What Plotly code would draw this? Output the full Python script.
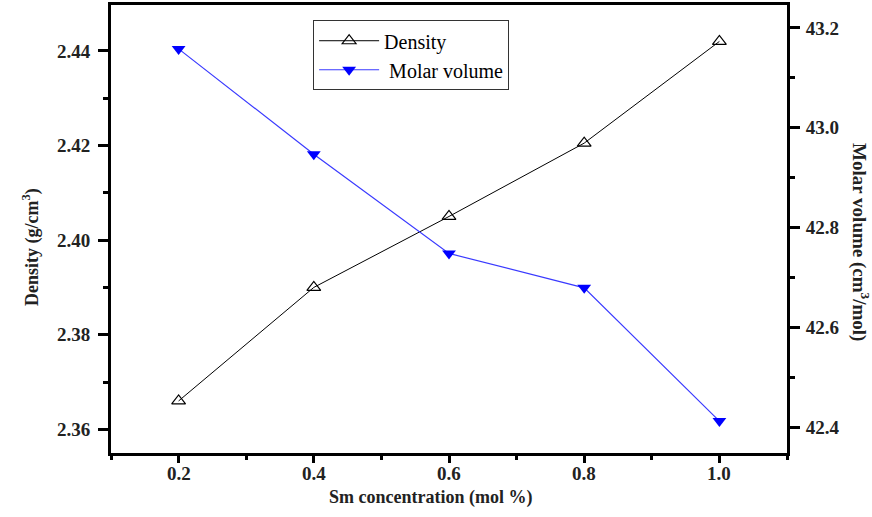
import plotly.graph_objects as go

sm_conc = [0.2, 0.4, 0.6, 0.8, 1.0]
density = [2.366, 2.390, 2.405, 2.4205, 2.442]
molar_volume = [43.158, 42.947, 42.748, 42.679, 42.412]

x_ticks = [0.2, 0.4, 0.6, 0.8, 1.0]
x_ticktext = ["0.2", "0.4", "0.6", "0.8", "1.0"]
y1_ticks = [2.36, 2.38, 2.40, 2.42, 2.44]
y1_ticktext = ["2.36", "2.38", "2.40", "2.42", "2.44"]
y2_ticks = [42.4, 42.6, 42.8, 43.0, 43.2]
y2_ticktext = ["42.4", "42.6", "42.8", "43.0", "43.2"]

FONT = "Liberation Serif, Times New Roman, serif"
TICKFONT = dict(family=FONT, size=19, color="#222", weight="bold")
TITLEFONT = dict(family=FONT, size=18, color="#222", weight="bold")

fig = go.Figure()
fig.add_trace(go.Scatter(
    x=sm_conc, y=density, name="Density", mode="lines+markers",
    line=dict(color="black", width=1),
    marker=dict(symbol="triangle-up-open", size=12, color="black", line=dict(width=1.2)),
    yaxis="y"))
fig.add_trace(go.Scatter(
    x=sm_conc, y=molar_volume, name=" Molar volume", mode="lines+markers",
    line=dict(color="#3a3aff", width=1.2),
    marker=dict(symbol="triangle-down", size=12, color="#0000ff"),
    yaxis="y2"))

def axis_common(tl=10):
    return dict(showline=True, linecolor="black", linewidth=3, ticks="outside",
                ticklen=tl, tickwidth=2.5, tickcolor="black", showgrid=False, zeroline=False,
                tickfont=TICKFONT)

def minor(dt, t0, tl=5):
    return dict(ticks="outside", dtick=dt, tick0=t0, ticklen=tl, tickwidth=2.5, tickcolor="black")

fig.update_layout(
    width=872, height=517,
    margin=dict(l=111, r=85, t=2, b=64),
    plot_bgcolor="white", paper_bgcolor="white",
    showlegend=True,
    legend=dict(x=0.299, y=0.966, xanchor="left", yanchor="top",
                bgcolor="white", bordercolor="#333", borderwidth=1,
                font=dict(family=FONT, size=20, color="black"),
                itemwidth=60, tracegroupgap=0),
    xaxis=dict(range=[0.1, 1.1], tickvals=x_ticks, showticklabels=False, mirror=True,
               minor=minor(0.1, 0.1, 4), **axis_common(7)),
    yaxis=dict(range=[2.355, 2.4497], tickvals=y1_ticks, ticktext=y1_ticktext,
               minor=minor(0.01, 2.35), ticklabelstandoff=4, **axis_common()),
    yaxis2=dict(range=[42.348, 43.246], tickvals=y2_ticks, ticktext=y2_ticktext,
                overlaying="y", side="right", ticklabelstandoff=2,
                minor=minor(0.1, 42.3), **axis_common()),
)

# x tick labels placed close to the axis, as in the reference
for v, t in zip(x_ticks, x_ticktext):
    fig.add_annotation(text=t, x=v, xref="x", y=0, yref="paper", yanchor="middle",
                       yshift=-20, showarrow=False, font=TICKFONT)

fig.add_annotation(text="Sm concentration (mol %)", xref="paper", yref="paper",
                   x=0.472, y=-0.099, xanchor="center", yanchor="middle", showarrow=False,
                   font=TITLEFONT)
fig.add_annotation(text="Density (g/cm<sup>3</sup>)", xref="paper", yref="paper",
                   x=-0.139, y=0.46, textangle=-90, showarrow=False,
                   font=TITLEFONT)
fig.add_annotation(text="Molar volume (cm<sup>3</sup>/mol)", xref="paper", yref="paper",
                   x=1.13, y=0.47, textangle=90, showarrow=False,
                   font=dict(family=FONT, size=19, color="#222", weight="bold"))

fig.write_html("out.html")
